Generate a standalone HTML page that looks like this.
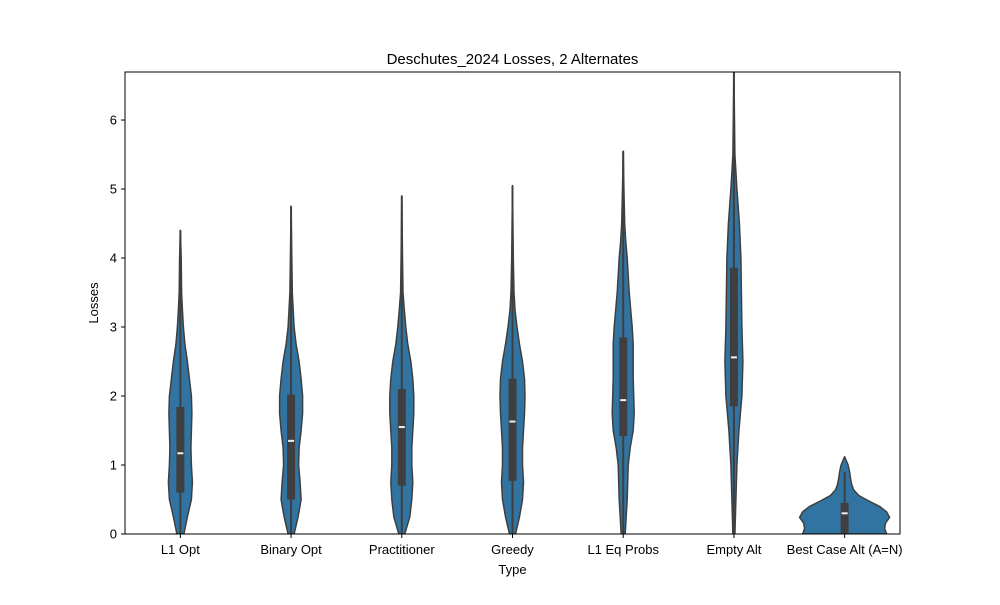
<!DOCTYPE html>
<html><head><meta charset="utf-8"><style>
body{margin:0;background:#fff;}
svg text{font-family:"Liberation Sans","DejaVu Sans",sans-serif;fill:#000;}
</style></head><body>
<svg id="chart" width="1000" height="600" viewBox="0 0 1000 600" xmlns="http://www.w3.org/2000/svg">
<rect width="1000" height="600" fill="#fff"/>
<g id="plot"></g>
<text x="512.5" y="64" font-size="15" text-anchor="middle">Deschutes_2024 Losses, 2 Alternates</text>
<text x="512.5" y="574" font-size="13" text-anchor="middle">Type</text>
<text x="98" y="303" font-size="13" text-anchor="middle" transform="rotate(-90 98 303)">Losses</text>
</svg>
<script>
const categories = ["L1 Opt","Binary Opt","Practitioner","Greedy","L1 Eq Probs","Empty Alt","Best Case Alt (A=N)"];
const yTicks = [0,1,2,3,4,5,6];
const q1 = [0.6,0.5,0.7,0.77,1.42,1.85,0.0];
const medians = [1.17,1.35,1.55,1.63,1.94,2.56,0.3];
const q3 = [1.84,2.02,2.1,2.25,2.85,3.86,0.45];
const whiskerMax = [4.4,4.75,4.9,5.05,5.55,6.75,0.9];
const densityY = [
 [0,0.25,0.5,0.75,1,1.25,1.5,1.75,2,2.25,2.5,2.75,3,3.25,3.5,4,4.4],
 [0,0.25,0.5,0.75,1,1.25,1.5,1.75,2,2.25,2.5,2.75,3,3.5,4,4.75],
 [0,0.25,0.5,0.75,1,1.25,1.5,1.75,2,2.25,2.5,2.75,3,3.25,3.5,4,4.9],
 [0,0.25,0.5,0.75,1,1.25,1.5,1.75,2,2.25,2.5,2.75,3,3.25,3.5,4,5.05],
 [0,0.5,1,1.25,1.5,1.75,2,2.25,2.5,2.75,3,3.25,3.5,3.75,4,4.25,4.5,5,5.55],
 [0,0.5,1,1.5,2,2.5,3,3.5,4,4.5,5,5.5,6,6.75],
 [0,0.08,0.16,0.24,0.32,0.4,0.48,0.56,0.64,0.72,0.8,0.9,1,1.12]
];
const densityW = [
 [3.5,7,11,12,11,10.5,11,11.5,11,9,7,4.5,3,2,1.2,0.8,0],
 [3,7,10,9,7.5,8,10,11.5,11.5,10,8,5,3,1.2,0.7,0],
 [3,8,10,11,10,10,11,12,12,11,9,6,4,2.5,1.2,0.7,0],
 [3,7,10,11,10,10,11,12,12.5,12,10,7,4.5,2.5,1.5,0.8,0],
 [2,4,5,7,10,11,10.5,10,10,10,9,7.5,6,5,4,2.5,1.5,0.7,0],
 [1,2,3,5,8,9,8,7.5,7,5.5,3,1,0.6,0],
 [42,40,41,45,42,35,24,14,9,7,6,5,3.5,0]
];
const L=125,R=900,T=72,B=534,YMAX=6.696;
const y=v=>B-(v/YMAX)*(B-T);
const x=i=>L+(R-L)*(i+0.5)/categories.length;
const NS="http://www.w3.org/2000/svg";
const g=document.getElementById('plot');
function mk(t,a){const e=document.createElementNS(NS,t);for(const k in a)e.setAttribute(k,a[k]);g.appendChild(e);return e;}
const clip=mk('clipPath',{id:'axclip'});
const cr=document.createElementNS(NS,'rect');cr.setAttribute('x',L);cr.setAttribute('y',T);cr.setAttribute('width',R-L);cr.setAttribute('height',B-T);clip.appendChild(cr);
categories.forEach((c,i)=>{
  const cx=x(i);const ys=densityY[i],ws=densityW[i];
  let right=ys.map((v,k)=>[cx+ws[k],y(v)]);
  let left=ys.map((v,k)=>[cx-ws[k],y(v)]).reverse();
  const pts=right.concat(left);
  let d="M"+pts.map(p=>p[0].toFixed(1)+","+p[1].toFixed(1)).join("L")+"Z";
  const v=mk('path',{d:d,fill:'#3274a1',stroke:'#3f3f3f','stroke-width':1.5,'stroke-linejoin':'round','clip-path':'url(#axclip)'});
  
  
  const wl=mk('line',{x1:cx,x2:cx,y1:y(0),y2:y(whiskerMax[i]),stroke:'#3f3f3f','stroke-width':2,'clip-path':'url(#axclip)'});
  
  
  const bx=mk('rect',{x:cx-4,y:y(q3[i]),width:8,height:y(q1[i])-y(q3[i]),fill:'#3f3f3f'});
  
  
  const md=mk('line',{x1:cx-3,x2:cx+3,y1:y(medians[i]),y2:y(medians[i]),stroke:'#f0f0f0','stroke-width':2});
  
  
  const tk=mk('line',{x1:cx,x2:cx,y1:B,y2:B+4,stroke:'#000','stroke-width':1});
  
  
  const tl=mk('text',{x:cx,y:B+20,'font-size':13,'text-anchor':'middle'});tl.textContent=c;
  
  
});
yTicks.forEach(t=>{
  const tk=mk('line',{x1:L-4,x2:L,y1:y(t),y2:y(t),stroke:'#000','stroke-width':1});
  
  
  const tl=mk('text',{x:L-8,y:y(t)+4.5,'font-size':13,'text-anchor':'end'});tl.textContent=t;
  
  
});
const fr=mk('rect',{x:L,y:T,width:R-L,height:B-T,fill:'none',stroke:'#000','stroke-width':1});


</script>
</body></html>
